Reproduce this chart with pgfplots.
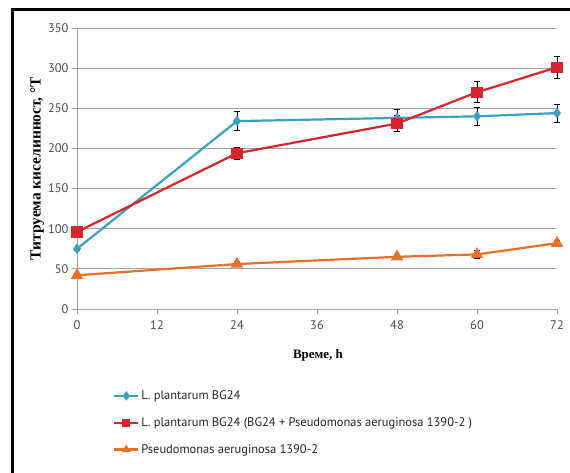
\documentclass[border=0pt]{standalone}
\usepackage{fontspec}
\setmainfont{Liberation Serif}
\newfontfamily\ptsans{PT Sans}
\usepackage{pgfplots}
\pgfplotsset{compat=1.18}
\definecolor{cblue}{RGB}{55,163,192}
\definecolor{cred}{RGB}{214,37,45}
\definecolor{corange}{RGB}{232,112,40}
\definecolor{cgrid}{RGB}{165,165,165}
\begin{document}
\begin{tikzpicture}[x=1bp,y=1bp]
\useasboundingbox (0,0) rectangle (570,473);
\fill[white] (0,0) rectangle (570,473);
\draw[black, line width=3bp] (12,0) -- (12,463) -- (572,463);
\begin{axis}[
  at={(77bp,164bp)}, anchor=south west,
  scale only axis, width=480bp, height=281bp,
  xmin=0, xmax=72, ymin=0, ymax=350,
  xtick={0,12,...,72}, ytick={0,50,...,350},
  axis x line=bottom, axis y line=left,
  axis line style={cgrid, line width=0.8bp, -},
  tick style={cgrid, line width=0.8bp},
  tick align=outside, major tick length=5bp,
  ymajorgrids, grid style={cgrid, line width=0.8bp},
  /pgf/number format/assume math mode=true,
  tick label style={font=\ptsans\fontsize{12.5}{14}\selectfont, text=black!70},
  xticklabel style={yshift=-3bp},
  xlabel={\textbf{Време, h}},
  ylabel={\textbf{Титруема киселинност, °T}},
  xlabel style={font=\fontsize{13}{15}\selectfont, at={(axis description cs:0.502,-0.164)}, anchor=center},
  ylabel style={font=\fontsize{15.5}{17}\selectfont, at={(axis description cs:-0.083,0.5)}, anchor=center, rotate=0},
  legend style={at={(axis description cs:0.075,-0.283)}, anchor=north west, draw=none, fill=none,
    font=\ptsans\fontsize{12.5}{14}\selectfont, row sep=12.5bp, inner sep=0pt, text=black!85},
  legend cell align=left,
  legend image code/.code={\draw[#1] (0bp,0bp) -- (12bp,0bp) (12bp,0bp) -- (24bp,0bp); \path[#1, mark repeat=1, mark size=3bp] plot coordinates {(12bp,0bp)};},
  error bars/y dir=both, error bars/y explicit,
  error bars/error bar style={black, line width=0.6bp},
  error bars/error mark options={rotate=90, mark size=3bp, black, line width=0.6bp},
  clip=false,
]
\addplot[cblue, line width=2.2bp, mark=diamond*, mark size=3.5bp, mark options={solid, fill=cblue}]
  coordinates {(0,75) +- (0,2) (24,234) +- (0,12) (48,238) +- (0,11) (60,240) +- (0,11) (72,244) +- (0,11)};
\addlegendentry{L. plantarum BG24}
\addplot[cred, line width=2.2bp, mark=square*, mark size=4.5bp, mark options={solid, fill=cred}]
  coordinates {(0,96) +- (0,3) (24,194) +- (0,8) (48,231) +- (0,10) (60,270) +- (0,13) (72,301) +- (0,14)};
\addlegendentry{L. plantarum BG24 (BG24 + Pseudomonas aeruginosa 1390-2 )}
\addplot[corange, line width=2.2bp, mark=triangle*, mark size=5bp, mark options={solid, fill=corange}]
  coordinates {(0,42) +- (0,2) (24,56) +- (0,3) (48,65) +- (0,3) (60,68) +- (0,5) (72,82) +- (0,3)};
\addlegendentry{Pseudomonas aeruginosa 1390-2}
\end{axis}
\end{tikzpicture}
\end{document}
